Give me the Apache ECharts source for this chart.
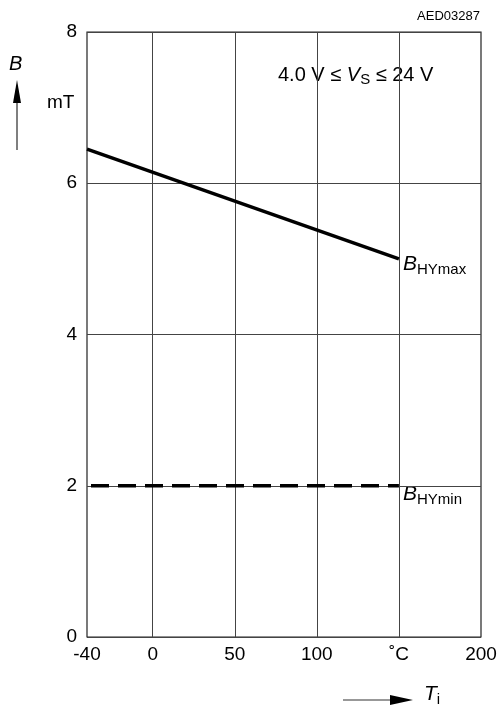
<!DOCTYPE html>
<html>
<head>
<meta charset="utf-8">
<script src="https://cdn.jsdelivr.net/npm/echarts@6/dist/echarts.min.js"></script>
<style>
  html, body { margin: 0; padding: 0; background: #fff; }
  #chart { width: 500px; height: 714px; }
</style>
</head>
<body>
<div id="chart"></div>
<script>
// data
const tempTicks = [-40, 0, 50, 100, 150, 200];
const tempGrid = [0, 50, 100, 150];
const bhyMax = [[-40, 6.45], [150, 5.0]];
const bhyMin = [[-40, 2.0], [150, 2.0]];

const FONT = '"Liberation Sans", Arial, sans-serif';
const chart = echarts.init(document.getElementById('chart'));

const option = {
  animation: false,
  grid: {
    left: 87, right: 19, top: 32, bottom: 77,
    show: true, borderColor: '#222', borderWidth: 1.2
  },
  xAxis: {
    type: 'value',
    min: -40, max: 200,
    axisLine: { show: false },
    axisTick: { show: false },
    splitLine: { show: false },
    axisLabel: {
      customValues: tempTicks,
      color: '#000', fontSize: 19, fontFamily: FONT, margin: 8,
      formatter: v => (v === 150 ? '˚C' : String(v))
    }
  },
  yAxis: {
    type: 'value',
    min: 0, max: 8, interval: 2,
    axisLine: { show: false },
    axisTick: { show: false },
    splitLine: { lineStyle: { color: '#444', width: 1 } },
    axisLabel: { color: '#000', fontSize: 19, fontFamily: FONT, margin: 10 }
  },
  series: [
    {
      type: 'line',
      data: [],
      silent: true,
      markLine: {
        symbol: 'none',
        silent: true,
        label: { show: false },
        lineStyle: { color: '#444', width: 1, type: 'solid' },
        data: tempGrid.map(v => ({ xAxis: v }))
      }
    },
    {
      name: 'BHYmax',
      type: 'line',
      data: bhyMax,
      symbol: 'none',
      lineStyle: { color: '#000', width: 3.5 },
      z: 5
    },
    {
      name: 'BHYmin',
      type: 'line',
      data: bhyMin,
      symbol: 'none',
      lineStyle: { color: '#000', width: 3.5, type: [18, 9], dashOffset: -4 },
      z: 5
    }
  ],
  graphic: [
    { type: 'text', right: 20, top: 10, style: { text: 'AED03287', font: '13px ' + FONT, fill: '#000' } },
    {
      type: 'text', left: 278, top: 65,
      style: {
        text: '4.0 V ≤ {i|V}{s|S} ≤ 24 V',
        font: '20px ' + FONT, fill: '#000',
        rich: {
          i: { font: 'italic 20px ' + FONT, fill: '#000' },
          s: { font: '15px ' + FONT, fill: '#000', padding: [10, 0, 0, 0] }
        }
      }
    },
    { type: 'text', left: 9, top: 54, style: { text: 'B', font: 'italic 20px ' + FONT, fill: '#000' } },
    { type: 'line', shape: { x1: 17, y1: 100, x2: 17, y2: 150 }, style: { stroke: '#555', lineWidth: 1.5 } },
    { type: 'polygon', shape: { points: [[17, 80], [13, 103], [21, 103]] }, style: { fill: '#000' } },
    { type: 'text', left: 47, top: 93, style: { text: 'mT', font: '19px ' + FONT, fill: '#000' } },
    {
      type: 'text', left: 403, top: 254,
      style: {
        text: '{b|B}{s|HYmax}', fill: '#000',
        rich: {
          b: { font: 'italic 21px ' + FONT, fill: '#000' },
          s: { font: '15px ' + FONT, fill: '#000', padding: [10, 0, 0, 0] }
        }
      }
    },
    {
      type: 'text', left: 403, top: 484,
      style: {
        text: '{b|B}{s|HYmin}', fill: '#000',
        rich: {
          b: { font: 'italic 21px ' + FONT, fill: '#000' },
          s: { font: '15px ' + FONT, fill: '#000', padding: [10, 0, 0, 0] }
        }
      }
    },
    { type: 'line', shape: { x1: 343, y1: 700, x2: 395, y2: 700 }, style: { stroke: '#333', lineWidth: 1.2 } },
    { type: 'polygon', shape: { points: [[413, 700], [390, 695], [390, 705]] }, style: { fill: '#000' } },
    {
      type: 'text', left: 424, top: 684,
      style: {
        text: '{b|T}{s|i}', fill: '#000',
        rich: {
          b: { font: 'italic 21px ' + FONT, fill: '#000' },
          s: { font: '15px ' + FONT, fill: '#000', padding: [10, 0, 0, 0] }
        }
      }
    }
  ]
};

chart.setOption(option);
</script>
</body>
</html>
